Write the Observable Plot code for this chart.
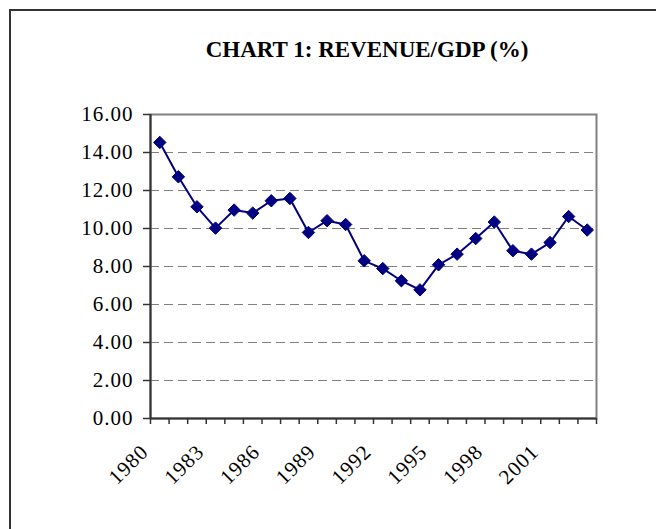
<!DOCTYPE html>
<html>
<head>
<meta charset="utf-8">
<script src="https://cdn.jsdelivr.net/npm/d3@7"></script>
<script src="https://cdn.jsdelivr.net/npm/@observablehq/plot@0.6"></script>
<style>
  html, body { margin: 0; padding: 0; background: #fff; width: 656px; height: 529px; overflow: hidden; }
  #wrap { position: relative; width: 656px; height: 529px; }
  #border { position: absolute; left: 9px; top: 9px; width: 800px; height: 700px; border-top: 2px solid #333; border-left: 2px solid #333; }
  #title { position: absolute; left: 0; width: 734px; top: 37px; text-align: center; font-family: "Liberation Serif", serif; font-weight: bold; font-size: 23px; color: #000; }
  #chart { position: absolute; left: 0; top: 0; }
  #chart svg text { letter-spacing: 1px; }
</style>
</head>
<body>
<div id="wrap">
  <div id="border"></div>
  <div id="chart"></div>
  <div id="title">CHART 1: REVENUE/GDP (%)</div>
</div>
<script>
const years = [1980,1981,1982,1983,1984,1985,1986,1987,1988,1989,1990,1991,1992,1993,1994,1995,1996,1997,1998,1999,2000,2001,2002,2003];
const revenueGdp = [14.53,12.72,11.14,10.02,10.97,10.81,11.46,11.58,9.79,10.41,10.21,8.30,7.89,7.25,6.77,8.09,8.65,9.47,10.34,8.83,8.65,9.26,10.63,9.92];
const yTicks = [0,2,4,6,8,10,12,14,16];
const labelYears = [1980,1983,1986,1989,1992,1995,1998,2001];

const data = years.map((y, i) => ({year: y, mid: y + 0.5, value: revenueGdp[i]}));
const bounds = years.concat([years[years.length - 1] + 1]);
const font = "Liberation Serif, Times New Roman, serif";

const chart = Plot.plot({
  width: 656,
  height: 529,
  marginLeft: 150,
  marginRight: 60,
  marginTop: 114,
  marginBottom: 111,
  style: {fontFamily: font, fontSize: "21px", color: "#000", background: "transparent", overflow: "visible"},
  x: {type: "linear", domain: [bounds[0], bounds[bounds.length - 1]]},
  y: {domain: [0, 16]},
  marks: [
    Plot.gridY(yTicks.slice(1), {stroke: "#7f7f7f", strokeOpacity: 1, strokeWidth: 1.2, strokeDasharray: "9,5"}),
    Plot.frame({stroke: "#808080", strokeWidth: 2}),
    Plot.ruleX([bounds[0]], {stroke: "#333", strokeWidth: 2}),
    Plot.ruleY([0], {stroke: "#333", strokeWidth: 2}),
    Plot.axisY(yTicks, {tickFormat: d3.format(".2f"), tickSize: 7, tickPadding: 10, stroke: "#333", strokeWidth: 1.5, fontSize: 21, fill: "#000", label: null}),
    Plot.axisX(bounds, {tickSize: 6, tickFormat: () => "", stroke: "#333", strokeWidth: 1.5, label: null}),
    Plot.axisX(labelYears.map(y => y + 0.5), {tickSize: 0, tickRotate: -45, tickFormat: d => String(d - 0.5), fontSize: 21, fill: "#000", dx: -15, dy: 18, label: null}),
    Plot.line(data, {x: "mid", y: "value", stroke: "#000080", strokeWidth: 2}),
    Plot.dot(data, {x: "mid", y: "value", symbol: "diamond2", r: 5.6, fill: "#000080", stroke: "#000080", strokeWidth: 1})
  ]
});
document.getElementById("chart").appendChild(chart);
</script>
</body>
</html>
